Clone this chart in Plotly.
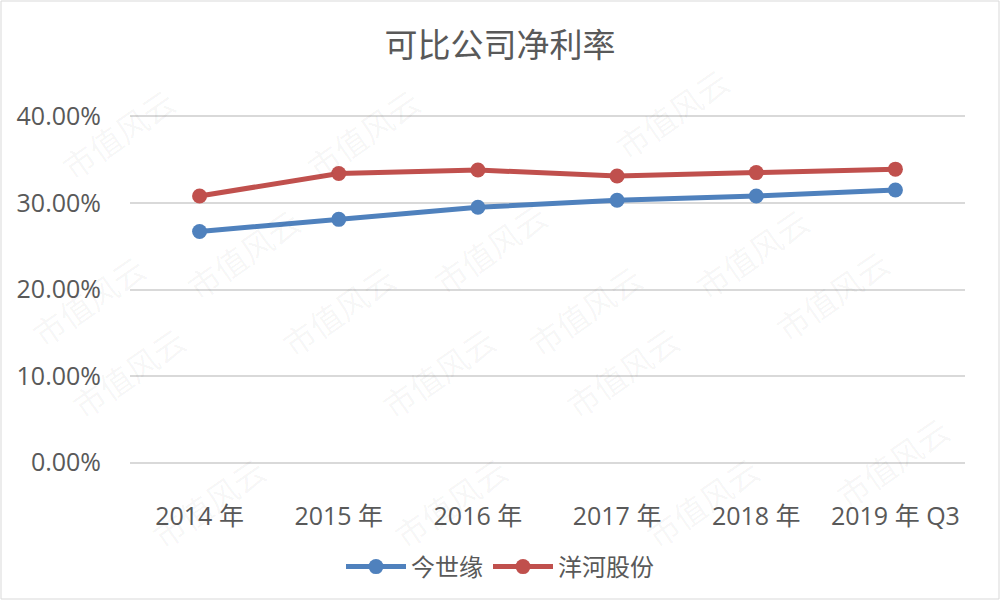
import plotly.graph_objects as go

categories = ["2014 年", "2015 年", "2016 年", "2017 年", "2018 年", "2019 年 Q3"]
jinshiyuan = [26.7, 28.1, 29.5, 30.3, 30.8, 31.5]
yanghe = [30.8, 33.4, 33.8, 33.1, 33.5, 33.9]
y_ticks = [0, 10, 20, 30, 40]
y_tick_labels = ["0.00%", "10.00%", "20.00%", "30.00%", "40.00%"]
watermark_text = "市值风云"

W, H = 1000, 600
ML, MR, MT, MB = 130, 35, 112, 133
PW, PH = W - ML - MR, H - MT - MB
Y0, Y1 = -0.5, 40.5

FONT = "Open Sans, Noto Sans CJK SC, sans-serif"
TXT = "#595959"

fig = go.Figure()
fig.add_trace(go.Scatter(
    x=categories, y=jinshiyuan, name="今世缘", mode="lines+markers",
    line=dict(color="#4f81bd", width=5), marker=dict(size=15, color="#4f81bd"),
))
fig.add_trace(go.Scatter(
    x=categories, y=yanghe, name="洋河股份", mode="lines+markers",
    line=dict(color="#c0504d", width=5), marker=dict(size=15, color="#c0504d"),
))

def px2paper(x, y):
    return (x - ML) / PW, (H - MB - y) / PH

wm_positions = [(50, 75), (295, 75), (740, 55), (175, 195), (490, 190), (820, 195),
                (20, 300), (270, 310), (585, 310), (900, 295), (60, 430), (370, 430),
                (690, 430), (960, 520), (140, 560), (450, 560), (770, 560)]
annotations = []
for (x, y) in wm_positions:
    ax, ay = px2paper(x, y)
    annotations.append(dict(
        x=ax, y=ay, xref="paper", yref="paper", text=watermark_text, showarrow=False,
        textangle=-35, font=dict(size=32, color="rgba(0,0,0,0.045)",
                                 family="Noto Sans CJK SC, sans-serif"),
    ))

bx0, by0 = px2paper(1, 599)
bx1, by1 = px2paper(999, 1)
fig.add_shape(type="rect", xref="paper", yref="paper", x0=bx0, y0=by0, x1=bx1, y1=by1,
              line=dict(color="#d9d9d9", width=1), layer="below")

fig.update_layout(
    width=W, height=H,
    margin=dict(l=ML, r=MR, t=MT, b=MB),
    paper_bgcolor="white", plot_bgcolor="white",
    font=dict(family=FONT, color=TXT),
    title=dict(text="可比公司净利率", x=0.5, xref="container", y=1 - 45 / H, yref="container",
               xanchor="center", yanchor="middle",
               font=dict(size=33, color=TXT, family="Noto Sans CJK SC, sans-serif")),
    xaxis=dict(type="category", range=[-0.5, 5.5], showgrid=False, zeroline=False,
               showline=False, ticks="", ticklabelstandoff=32,
               tickfont=dict(size=25, color=TXT, family=FONT)),
    yaxis=dict(range=[Y0, Y1], tickvals=y_ticks, ticktext=y_tick_labels,
               showgrid=True, gridcolor="#d9d9d9", gridwidth=1.5,
               zeroline=True, zerolinecolor="#d9d9d9", zerolinewidth=1.5,
               showline=False, ticks="", ticklabelstandoff=28,
               tickfont=dict(size=25, color=TXT, family=FONT)),
    legend=dict(orientation="h", x=0.5, xanchor="center", xref="container",
                y=1 - 567 / H, yref="container", yanchor="middle",
                font=dict(size=24, color=TXT, family="Noto Sans CJK SC, sans-serif"),
                itemwidth=60),
    annotations=annotations,
    showlegend=True,
)

fig.write_html("out.html")
